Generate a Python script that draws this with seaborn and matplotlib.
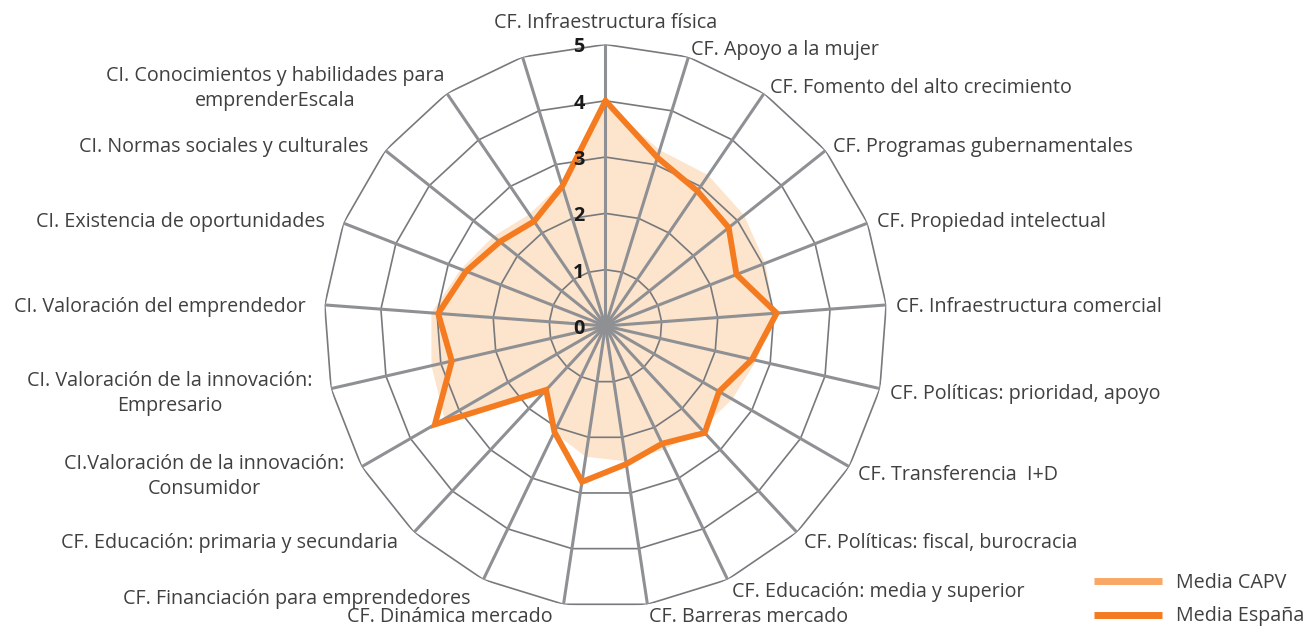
import numpy as np
import pandas as pd
import matplotlib
matplotlib.use("Agg")
import matplotlib.pyplot as plt
import seaborn as sns
from matplotlib.lines import Line2D

# ---------------- data ----------------
categorias = [
    "CF. Infraestructura física",
    "CF. Apoyo a la mujer",
    "CF. Fomento del alto crecimiento",
    "CF. Programas gubernamentales",
    "CF. Propiedad intelectual",
    "CF. Infraestructura comercial",
    "CF. Políticas: prioridad, apoyo",
    "CF. Transferencia  I+D",
    "CF. Políticas: fiscal, burocracia",
    "CF. Educación: media y superior",
    "CF. Barreras mercado",
    "CF. Dinámica mercado",
    "CF. Financiación para emprendedores",
    "CF. Educación: primaria y secundaria",
    "CI.Valoración de la innovación:\nConsumidor",
    "CI. Valoración de la innovación:\nEmpresario",
    "CI. Valoración del emprendedor",
    "CI. Existencia de oportunidades",
    "CI. Normas sociales y culturales",
    "CI. Conocimientos y habilidades para\nemprenderEscala",
    "",
]
media_capv = [3.95, 3.27, 3.24, 3.15, 3.05, 3.0, 2.75, 2.6, 2.5, 2.43, 2.43,
              2.35, 2.1, 1.6, 3.3, 3.17, 3.1, 2.76, 2.55, 2.4, 2.65]
media_espana = [4.0, 3.13, 2.9, 2.8, 2.5, 3.05, 2.67, 2.33, 2.59, 2.32, 2.48,
                2.8, 2.09, 1.55, 3.5, 2.8, 2.98, 2.66, 2.4, 2.25, 2.6]
escala = [0, 1, 2, 3, 4, 5]
series = ["Media CAPV", "Media España"]

# ---------------- style ----------------
sns.set_theme(style="white")
plt.rcParams["font.family"] = ["Open Sans", "DejaVu Sans"]

FS = 14.2
COL_CAPV_LINE = "#F9A765"
COL_CAPV_FILL = "#FDE4CC"
COL_ESP = "#F47B20"
COL_SPOKE = "#8E9094"
COL_RING = "#77797C"
COL_TEXT = "#404040"

n = len(categorias)
theta = np.linspace(0, 2 * np.pi, n, endpoint=False)
theta_c = np.append(theta, theta[0])

fig = plt.figure(figsize=(13.08, 6.28), dpi=100)
ax = fig.add_axes([0.2477, 0.0327, 0.4304, 0.8965], projection="polar")
ax.set_theta_zero_location("N")
ax.set_theta_direction(-1)
ax.set_ylim(0, max(escala))
ax.grid(False)
ax.spines["polar"].set_visible(False)
ax.set_xticks([])
ax.set_yticks([])
ax.set_facecolor("white")

# CAPV filled area
capv_c = np.append(media_capv, media_capv[0])
ax.fill(theta_c, capv_c, color=COL_CAPV_FILL, lw=0, zorder=1)

# polygonal rings
for k in escala[1:]:
    ax.plot(theta_c, [k] * (n + 1), color=COL_RING, lw=1.2, zorder=2)
# spokes
for t in theta:
    ax.plot([t, t], [0, max(escala)], color=COL_SPOKE, lw=2.2, zorder=2)

# España line via seaborn
df = pd.DataFrame({"theta": theta_c,
                   "valor": np.append(media_espana, media_espana[0])})
sns.lineplot(data=df, x="theta", y="valor", sort=False, estimator=None,
             color=COL_ESP, lw=4.2, ax=ax, zorder=4, legend=False)
ax.lines[-1].set_solid_joinstyle("miter")
ax.set_xlabel("")
ax.set_ylabel("")

# scale labels
px = 72 / 100.0
for k in escala:
    ax.annotate(str(k), xy=(0, k), xytext=(-21 * px, -3 * px), textcoords="offset points",
                ha="right", va="center", fontsize=FS, fontweight="bold",
                color="#1a1a1a", zorder=5)

# category labels
for i, (t, lab) in enumerate(zip(theta, categorias)):
    if not lab:
        continue
    s, c = np.sin(t), np.cos(t)
    dx, dy = 10 * s, 10 * c - 3
    if i == 0:
        dx, dy, ha = 0, 21, "center"
    elif s > 0.05:
        ha = "left"
    else:
        ha = "right"
        dx -= 9
        if i == 19:
            dx += 12
        if i == 12:
            dy -= 7
        if i == 14:
            dy -= 2
    ax.annotate(lab, xy=(t, max(escala)), xytext=(dx * px, dy * px),
                textcoords="offset points", ha=ha, va="center",
                multialignment="center", linespacing=1.35, fontsize=FS,
                color=COL_TEXT, annotation_clip=False)

handles = [Line2D([], [], color=COL_CAPV_LINE, lw=5, solid_capstyle="butt"),
           Line2D([], [], color=COL_ESP, lw=5, solid_capstyle="butt")]
fig.legend(handles, series, loc="upper left",
           bbox_to_anchor=(1094 / 1308, 1 - 573 / 628), frameon=False,
           fontsize=FS, handlelength=3.45, handletextpad=0.7,
           labelspacing=0.68, borderpad=0, borderaxespad=0,
           labelcolor=COL_TEXT)

fig.savefig("out.png", dpi=100)
